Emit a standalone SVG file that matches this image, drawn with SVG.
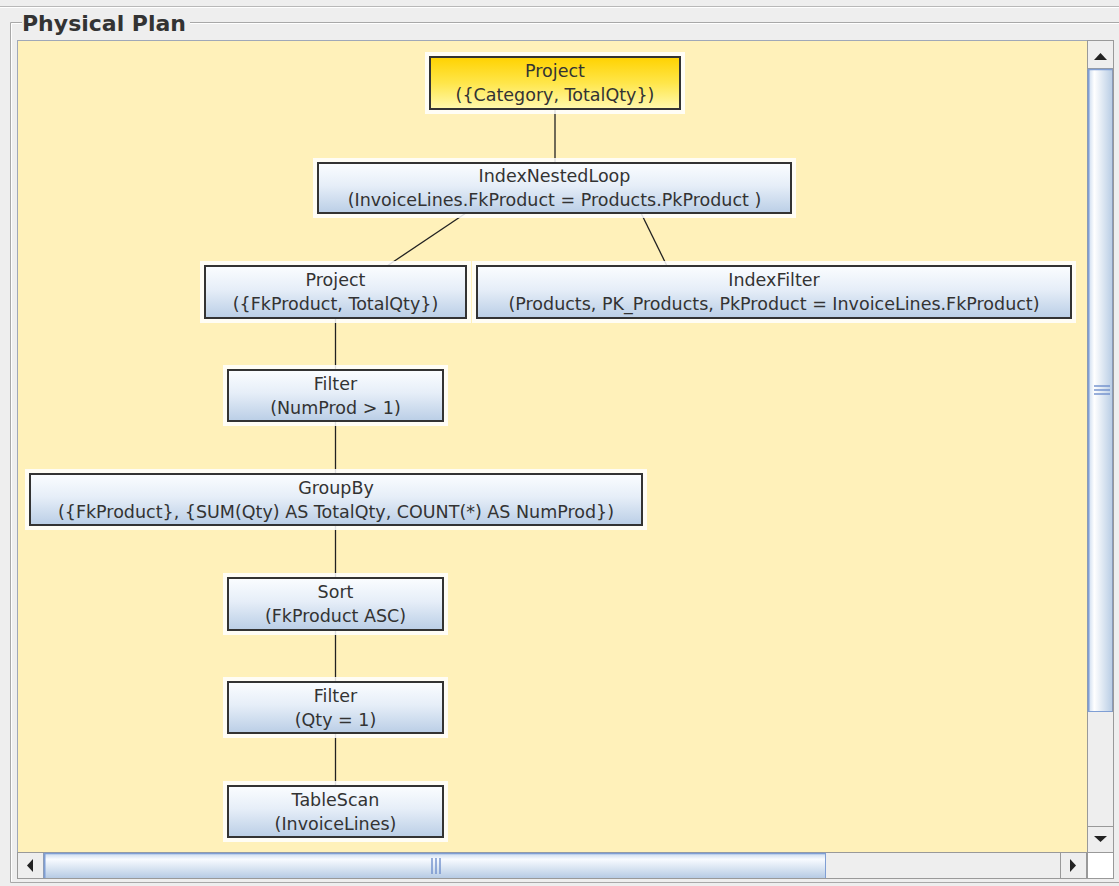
<svg xmlns="http://www.w3.org/2000/svg" width="1119" height="886" viewBox="0 0 1119 886">
<defs>
<linearGradient id="gBlue" x1="0" y1="0" x2="0" y2="1">
<stop offset="0" stop-color="#fbfdff"/>
<stop offset="0.45" stop-color="#e6eef8"/>
<stop offset="1" stop-color="#bacee6"/>
</linearGradient>
<linearGradient id="gGold" x1="0" y1="0" x2="0" y2="1">
<stop offset="0" stop-color="#ffd200"/>
<stop offset="0.5" stop-color="#ffe64a"/>
<stop offset="1" stop-color="#fff9b0"/>
</linearGradient>
<linearGradient id="gThumbV" x1="0" y1="0" x2="1" y2="0">
<stop offset="0" stop-color="#c7d8ee"/>
<stop offset="0.25" stop-color="#ffffff"/>
<stop offset="1" stop-color="#b6cbe4"/>
</linearGradient>
<linearGradient id="gThumbH" x1="0" y1="0" x2="0" y2="1">
<stop offset="0" stop-color="#c7d8ee"/>
<stop offset="0.25" stop-color="#f8fbff"/>
<stop offset="1" stop-color="#b6cbe4"/>
</linearGradient>
</defs>
<style>
.halo{fill:#ffffff;fill-opacity:0.85}
.box{fill:url(#gBlue);stroke:#333333;stroke-width:2}
.gold{fill:url(#gGold);stroke:#333333;stroke-width:2}
.t{font-family:"DejaVu Sans",Verdana,sans-serif;font-size:17.5px;fill:#333333;text-anchor:middle}
.edge{stroke:#222222;stroke-width:1.3;fill:none}
.btn{fill:#eeeeee;stroke:#999999;stroke-width:1}
.arrow{fill:#222222}
</style>
<rect x="0" y="0" width="1119" height="886" fill="#eeeeee"/>
<line x1="0" y1="6.5" x2="1119" y2="6.5" stroke="#b8b8b8" stroke-width="1"/>
<line x1="0" y1="7.5" x2="1119" y2="7.5" stroke="#ffffff" stroke-width="1"/>
<!-- titled border -->
<path d="M22,22.5 H10.5 V882.5 H1119 M190,22.5 H1119" fill="none" stroke="#a8a8a8" stroke-width="1"/>
<path d="M22,23.5 H11.5 V881.5 M190,23.5 H1119" fill="none" stroke="#ffffff" stroke-width="1"/>
<text x="22" y="31" font-family="DejaVu Sans,Verdana,sans-serif" font-weight="bold" font-size="22" fill="#333333">Physical Plan</text>
<!-- viewport -->
<rect x="17.5" y="40.5" width="1070" height="812" fill="#fff1ba" stroke="#a0a8b8" stroke-width="1"/>
<!-- vertical scrollbar -->
<rect x="1087.5" y="40.5" width="26" height="812" fill="#eeeeee" stroke="#999999" stroke-width="1"/>
<rect class="btn" x="1087.5" y="40.5" width="26" height="28"/>
<path class="arrow" d="M1094,60 L1100.5,53 L1107,60 Z"/>
<rect x="1088" y="69" width="25" height="643" fill="url(#gThumbV)"/>
<line x1="1088.5" y1="69" x2="1088.5" y2="712" stroke="#7f9ed4" stroke-width="2"/>
<line x1="1088" y1="69.5" x2="1113" y2="69.5" stroke="#7f9ed4" stroke-width="1.5"/>
<line x1="1088" y1="711.5" x2="1113" y2="711.5" stroke="#7f9ed4" stroke-width="1"/>
<line x1="1112.5" y1="69" x2="1112.5" y2="712" stroke="#8a9ab8" stroke-width="1"/>
<g stroke="#6f8fcc" stroke-width="1.4">
<line x1="1094" y1="386" x2="1110" y2="386"/>
<line x1="1094" y1="390" x2="1110" y2="390"/>
<line x1="1094" y1="394" x2="1110" y2="394"/>
</g>
<rect class="btn" x="1087.5" y="826.5" width="26" height="26"/>
<path class="arrow" d="M1094,836 L1107,836 L1100.5,842 Z"/>
<!-- horizontal scrollbar -->
<rect x="17.5" y="852.5" width="1070" height="26" fill="#eeeeee" stroke="#999999" stroke-width="1"/>
<rect class="btn" x="17.5" y="852.5" width="26" height="26"/>
<path class="arrow" d="M27,865.5 L33,859 L33,872 Z"/>
<rect x="44" y="853" width="782" height="25" fill="url(#gThumbH)"/>
<line x1="44.5" y1="853" x2="44.5" y2="878" stroke="#7f9ed4" stroke-width="2"/>
<line x1="44" y1="853.5" x2="826" y2="853.5" stroke="#7f9ed4" stroke-width="1.5"/>
<line x1="825.5" y1="853" x2="825.5" y2="878" stroke="#7f9ed4" stroke-width="1"/>
<g stroke="#6f8fcc" stroke-width="1.4">
<line x1="432" y1="858" x2="432" y2="874"/>
<line x1="436" y1="858" x2="436" y2="874"/>
<line x1="440" y1="858" x2="440" y2="874"/>
</g>
<rect class="btn" x="1060.5" y="852.5" width="26" height="26"/>
<path class="arrow" d="M1070,859 L1076,865.5 L1070,872 Z"/>
<rect x="1087.5" y="852.5" width="26" height="26" fill="#ffffff" stroke="#999999" stroke-width="1"/>
<!-- connectors -->
<g id="connectors">
<line class="edge" x1="555" y1="109" x2="555" y2="163"/>
<line class="edge" x1="466" y1="213" x2="387" y2="266"/>
<line class="edge" x1="641" y1="213" x2="667" y2="266"/>
<line class="edge" x1="335.5" y1="318" x2="335.5" y2="370"/>
<line class="edge" x1="335.5" y1="421" x2="335.5" y2="474"/>
<line class="edge" x1="335.5" y1="525" x2="335.5" y2="578"/>
<line class="edge" x1="335.5" y1="630" x2="335.5" y2="682"/>
<line class="edge" x1="335.5" y1="733" x2="335.5" y2="786"/>
</g>
<!-- nodes -->
<g id="n1">
<rect class="halo" x="425" y="52" width="260" height="62"/>
<rect class="gold" x="430" y="57" width="250" height="52"/>
<text class="t" x="555" y="77">Project</text>
<text class="t" x="555" y="101">({Category, TotalQty})</text>
</g>
<g id="n2">
<rect class="halo" x="313" y="158" width="483" height="60"/>
<rect class="box" x="318" y="163" width="473" height="50"/>
<text class="t" x="554.5" y="182">IndexNestedLoop</text>
<text class="t" x="554.5" y="206">(InvoiceLines.FkProduct = Products.PkProduct )</text>
</g>
<g id="n3">
<rect class="halo" x="200" y="261" width="271" height="62"/>
<rect class="box" x="205" y="266" width="261" height="52"/>
<text class="t" x="335.5" y="286">Project</text>
<text class="t" x="335.5" y="310">({FkProduct, TotalQty})</text>
</g>
<g id="n4">
<rect class="halo" x="472" y="261" width="604" height="62"/>
<rect class="box" x="477" y="266" width="594" height="52"/>
<text class="t" x="774" y="286">IndexFilter</text>
<text class="t" x="774" y="310">(Products, PK_Products, PkProduct = InvoiceLines.FkProduct)</text>
</g>
<g id="n5">
<rect class="halo" x="223" y="365" width="225" height="61"/>
<rect class="box" x="228" y="370" width="215" height="51"/>
<text class="t" x="335.5" y="390">Filter</text>
<text class="t" x="335.5" y="414">(NumProd &gt; 1)</text>
</g>
<g id="n6">
<rect class="halo" x="25" y="469" width="622" height="61"/>
<rect class="box" x="30" y="474" width="612" height="51"/>
<text class="t" x="336" y="494">GroupBy</text>
<text class="t" x="336" y="518">({FkProduct}, {SUM(Qty) AS TotalQty, COUNT(*) AS NumProd})</text>
</g>
<g id="n7">
<rect class="halo" x="223" y="573" width="225" height="62"/>
<rect class="box" x="228" y="578" width="215" height="52"/>
<text class="t" x="335.5" y="598">Sort</text>
<text class="t" x="335.5" y="622">(FkProduct ASC)</text>
</g>
<g id="n8">
<rect class="halo" x="223" y="677" width="225" height="61"/>
<rect class="box" x="228" y="682" width="215" height="51"/>
<text class="t" x="335.5" y="702">Filter</text>
<text class="t" x="335.5" y="726">(Qty = 1)</text>
</g>
<g id="n9">
<rect class="halo" x="223" y="781" width="225" height="61"/>
<rect class="box" x="228" y="786" width="215" height="51"/>
<text class="t" x="335.5" y="806">TableScan</text>
<text class="t" x="335.5" y="830">(InvoiceLines)</text>
</g>
</svg>
